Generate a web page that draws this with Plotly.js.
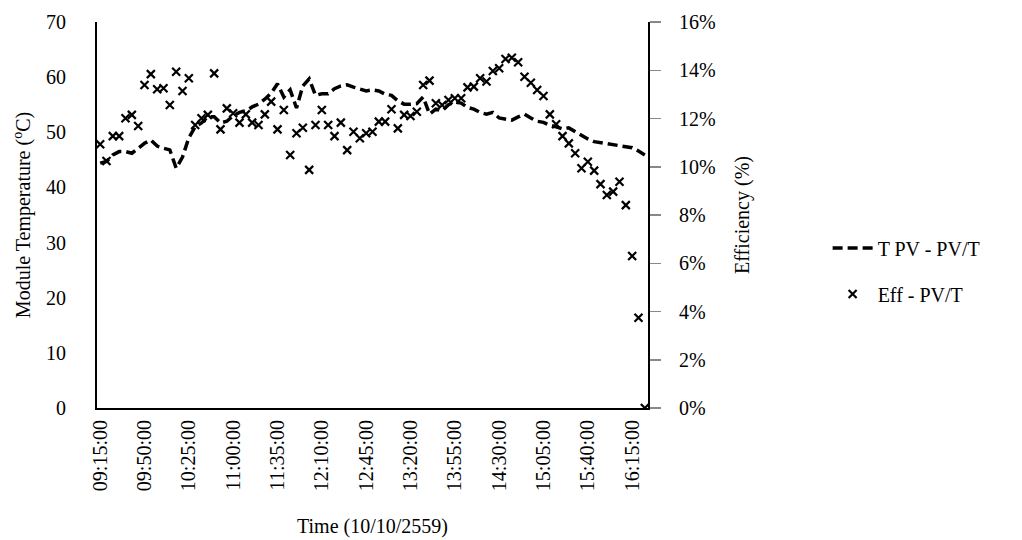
<!DOCTYPE html>
<html>
<head>
<meta charset="utf-8">
<script src="https://cdn.plot.ly/plotly-3.0.1.min.js"></script>
<style>
  html, body { margin: 0; padding: 0; background: #fff; }
  #chart { width: 1022px; height: 540px; }
</style>
</head>
<body>
<div id="chart"></div>
<script>
const times = [
  "09:15:00","09:20:00","09:25:00","09:30:00","09:35:00","09:40:00","09:45:00","09:50:00","09:55:00","10:00:00",
  "10:05:00","10:10:00","10:15:00","10:20:00","10:25:00","10:30:00","10:35:00","10:40:00","10:45:00","10:50:00",
  "10:55:00","11:00:00","11:05:00","11:10:00","11:15:00","11:20:00","11:25:00","11:30:00","11:35:00","11:40:00",
  "11:45:00","11:50:00","11:55:00","12:00:00","12:05:00","12:10:00","12:15:00","12:20:00","12:25:00","12:30:00",
  "12:35:00","12:40:00","12:45:00","12:50:00","12:55:00","13:00:00","13:05:00","13:10:00","13:15:00","13:20:00",
  "13:25:00","13:30:00","13:35:00","13:40:00","13:45:00","13:50:00","13:55:00","14:00:00","14:05:00","14:10:00",
  "14:15:00","14:20:00","14:25:00","14:30:00","14:35:00","14:40:00","14:45:00","14:50:00","14:55:00","15:00:00",
  "15:05:00","15:10:00","15:15:00","15:20:00","15:25:00","15:30:00","15:35:00","15:40:00","15:45:00","15:50:00",
  "15:55:00","16:00:00","16:05:00","16:10:00","16:15:00","16:20:00","16:25:00"
];

const tickLabels = [
  "09:15:00","09:50:00","10:25:00","11:00:00","11:35:00","12:10:00","12:45:00",
  "13:20:00","13:55:00","14:30:00","15:05:00","15:40:00","16:15:00"
];

// Module temperature, T PV - PV/T (°C)
const tempPVT = [
  44.4, 44.7, 45.9, 46.5, 46.5, 46.2, 47.1, 48.0, 48.6, 47.5,
  47.1, 46.8, 43.5, 45.5, 49.0, 51.0, 51.7, 52.8, 52.8, 51.7,
  52.0, 53.0, 53.6, 53.9, 54.6, 55.1, 56.0, 57.1, 58.8, 56.4,
  57.7, 54.4, 58.4, 59.7, 56.7, 57.0, 57.0, 57.9, 58.4, 58.6,
  58.2, 57.9, 57.5, 57.7, 57.5, 56.9, 56.7, 55.7, 55.1, 55.1,
  55.2, 56.4, 53.3, 54.2, 53.9, 55.0, 55.5, 55.3, 54.5, 54.2,
  53.6, 53.3, 53.6, 52.6, 52.4, 52.2, 52.8, 53.3, 52.6, 52.0,
  51.8, 51.3, 51.0, 50.6, 50.8, 50.1, 49.4, 48.8, 48.3, 48.1,
  48.0, 47.8, 47.6, 47.4, 47.2, 46.6, 45.9
];

// Efficiency, Eff - PV/T (%)
const effPVT = [
  10.93, 10.24, 11.27, 11.27, 12.01, 12.15, 11.69, 13.39, 13.84, 13.21,
  13.25, 12.56, 13.94, 13.14, 13.67, 11.73, 12.01, 12.15, 13.87, 11.55,
  12.42, 12.22, 11.83, 12.17, 11.83, 11.73, 12.17, 12.70, 11.55, 12.35,
  10.49, 11.39, 11.62, 9.87, 11.73, 12.35, 11.73, 11.27, 11.83, 10.69,
  11.45, 11.18, 11.39, 11.45, 11.87, 11.87, 12.38, 11.59, 12.15, 12.10,
  12.28, 13.39, 13.57, 12.63, 12.56, 12.77, 12.84, 12.84, 13.29, 13.32,
  13.67, 13.53, 13.97, 14.08, 14.47, 14.52, 14.33, 13.73, 13.48, 13.18,
  12.93, 12.17, 11.76, 11.27, 10.97, 10.56, 9.94, 10.21, 9.84, 9.28,
  8.83, 8.97, 9.38, 8.41, 6.30, 3.74, 0.00
];

const FONT = "Times New Roman, Liberation Serif, serif";

const traces = [
  {
    x: times,
    y: tempPVT,
    type: "scatter",
    mode: "lines",
    name: "T PV - PV/T",
    legendgroup: "a",
    line: { color: "#000", width: 3.5, dash: "10px,5px" },
    yaxis: "y"
  },
  {
    x: times,
    y: effPVT.map(v => v / 100),
    type: "scatter",
    mode: "markers",
    name: "Eff - PV/T",
    legendgroup: "b",
    marker: { symbol: "x-thin", size: 8, color: "#000", line: { color: "#000", width: 2.2 } },
    yaxis: "y2"
  }
];

const layout = {
  width: 1022,
  height: 540,
  margin: { l: 97, r: 374, t: 22, b: 132, pad: 0 },
  paper_bgcolor: "#fff",
  plot_bgcolor: "#fff",
  font: { family: FONT, size: 20, color: "#000" },
  showlegend: true,
  legend: {
    x: 1.326, xanchor: "left",
    y: 0.355, yanchor: "middle",
    traceorder: "grouped",
    tracegroupgap: 17,
    font: { family: FONT, size: 20, color: "#000" },
    bgcolor: "rgba(0,0,0,0)",
    itemwidth: 40
  },
  xaxis: {
    type: "category",
    range: [-0.5, 86.5],
    tickmode: "array",
    tickvals: tickLabels,
    ticktext: tickLabels,
    tickangle: -90,
    ticks: "",
    ticklabelstandoff: 2,
    showgrid: false,
    zeroline: false,
    showline: true,
    linecolor: "#000",
    linewidth: 2,
    tickfont: { family: FONT, size: 20, color: "#000" },
    title: { text: "Time (10/10/2559)", font: { family: FONT, size: 20, color: "#000" }, standoff: 29 },
    fixedrange: true
  },
  yaxis: {
    range: [0, 70],
    dtick: 10,
    tick0: 0,
    ticks: "",
    ticklabelstandoff: 25,
    showgrid: false,
    zeroline: false,
    showline: true,
    linecolor: "#000",
    linewidth: 2,
    tickfont: { family: FONT, size: 20, color: "#000" },
    title: { text: "Module Temperature (<sup>o</sup>C)", font: { family: FONT, size: 20, color: "#000" }, standoff: 10 },
    fixedrange: true
  },
  yaxis2: {
    overlaying: "y",
    side: "right",
    range: [0, 0.16],
    dtick: 0.02,
    tick0: 0,
    tickformat: ".0%",
    ticks: "outside",
    ticklen: 11,
    tickwidth: 1.5,
    tickcolor: "#888",
    ticklabelstandoff: 14,
    showgrid: false,
    zeroline: false,
    showline: true,
    linecolor: "#000",
    linewidth: 2,
    tickfont: { family: FONT, size: 20, color: "#000" },
    title: { text: "Efficiency (%)", font: { family: FONT, size: 20, color: "#000" }, standoff: 20 },
    fixedrange: true
  }
};

Plotly.newPlot("chart", traces, layout, { displayModeBar: false, staticPlot: true });
</script>
</body>
</html>
